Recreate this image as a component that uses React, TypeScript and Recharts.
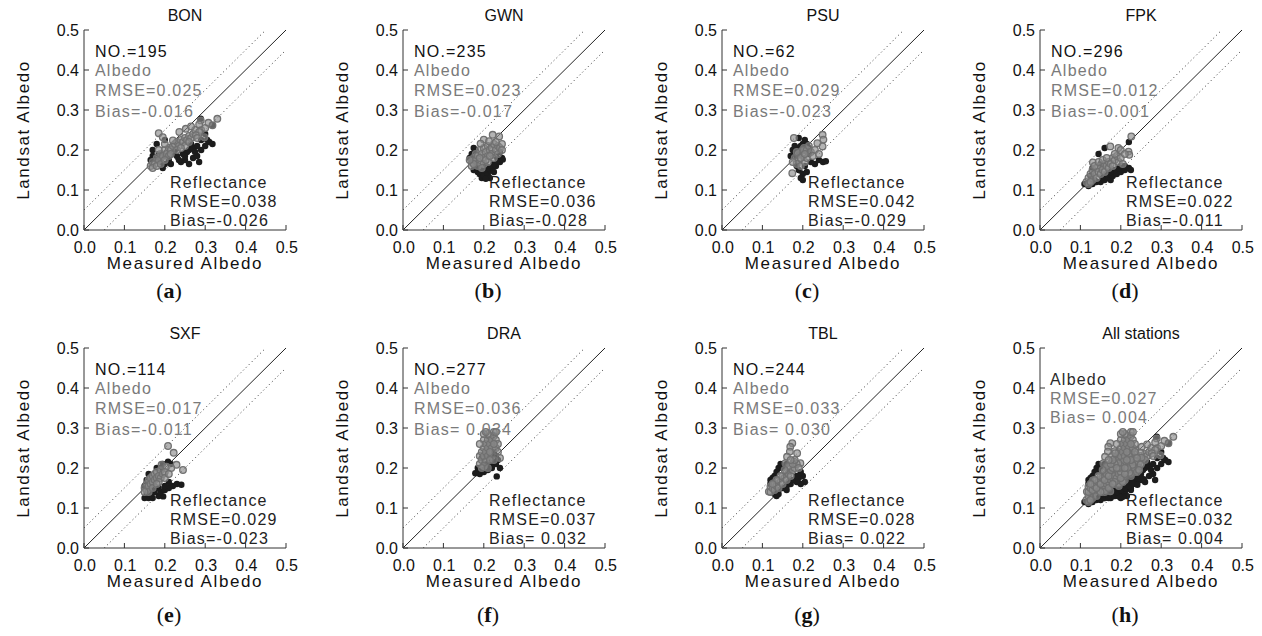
import { ScatterChart, Scatter, XAxis, YAxis, ReferenceLine } from "recharts"

type Pt = [number, number]

const FONT = '"Liberation Sans", Arial, sans-serif'

const stations = ["BON", "GWN", "PSU", "FPK", "SXF", "DRA", "TBL", "All stations"]
const tags = ["a", "b", "c", "d", "e", "f", "g", "h"]
const counts = ["195", "235", "62", "296", "114", "277", "244", ""]
const albedoRmse = ["0.025", "0.023", "0.029", "0.012", "0.017", "0.036", "0.033", "0.027"]
const albedoBias = ["-0.016", "-0.017", "-0.023", "-0.001", "-0.011", " 0.034", " 0.030", " 0.004"]
const reflRmse = ["0.038", "0.036", "0.042", "0.022", "0.029", "0.037", "0.028", "0.032"]
const reflBias = ["-0.026", "-0.028", "-0.029", "-0.011", "-0.023", " 0.032", " 0.022", " 0.004"]

const ticks = [0, 0.1, 0.2, 0.3, 0.4, 0.5]
const band = 0.05

// Albedo (grey open circles) and Reflectance (black dots), [measured, landsat]
const bonAlbedo: Pt[] = [
  [0.165, 0.16], [0.17, 0.17], [0.175, 0.165], [0.17, 0.155], [0.18, 0.16], [0.18, 0.18], [0.185, 0.175],
  [0.19, 0.19], [0.195, 0.185], [0.2, 0.2], [0.205, 0.19], [0.21, 0.205], [0.215, 0.2], [0.22, 0.21],
  [0.225, 0.215], [0.23, 0.22], [0.235, 0.21], [0.24, 0.225], [0.245, 0.22], [0.25, 0.23], [0.255, 0.225],
  [0.26, 0.235], [0.265, 0.23], [0.27, 0.24], [0.2, 0.215], [0.185, 0.2], [0.21, 0.185], [0.23, 0.2],
  [0.25, 0.21], [0.275, 0.25], [0.29, 0.25], [0.3, 0.255], [0.185, 0.242], [0.195, 0.232], [0.22, 0.224],
  [0.236, 0.245], [0.252, 0.253], [0.265, 0.259], [0.289, 0.274], [0.285, 0.264], [0.308, 0.268],
  [0.33, 0.278], [0.318, 0.262], [0.285, 0.245], [0.277, 0.237], [0.298, 0.232], [0.19, 0.165],
  [0.2, 0.175], [0.215, 0.19], [0.24, 0.205], [0.26, 0.22], [0.28, 0.23],
]
const bonRefl: Pt[] = [
  [0.17, 0.185], [0.18, 0.175], [0.19, 0.17], [0.2, 0.165], [0.24, 0.17], [0.25, 0.175], [0.26, 0.165],
  [0.27, 0.18], [0.28, 0.185], [0.285, 0.17], [0.29, 0.2], [0.3, 0.21], [0.31, 0.22], [0.318, 0.215],
  [0.305, 0.225], [0.318, 0.262], [0.289, 0.278], [0.22, 0.19], [0.23, 0.185], [0.21, 0.175], [0.225, 0.2],
  [0.245, 0.19], [0.26, 0.2], [0.27, 0.205], [0.28, 0.21], [0.265, 0.215], [0.255, 0.195], [0.17, 0.2],
  [0.185, 0.19], [0.2, 0.185], [0.215, 0.165], [0.18, 0.215], [0.2, 0.225], [0.195, 0.155], [0.165, 0.175],
  [0.29, 0.225], [0.3, 0.24], [0.275, 0.195], [0.235, 0.175], [0.25, 0.185],
]
const gwnAlbedo: Pt[] = [
  [0.17, 0.17], [0.175, 0.18], [0.18, 0.175], [0.18, 0.19], [0.185, 0.185], [0.19, 0.2], [0.19, 0.17],
  [0.195, 0.19], [0.2, 0.205], [0.2, 0.18], [0.205, 0.195], [0.21, 0.21], [0.21, 0.185], [0.215, 0.2],
  [0.22, 0.205], [0.22, 0.19], [0.225, 0.215], [0.23, 0.2], [0.235, 0.21], [0.24, 0.205], [0.245, 0.215],
  [0.2, 0.165], [0.185, 0.16], [0.21, 0.17], [0.225, 0.18], [0.235, 0.19], [0.17, 0.16], [0.175, 0.165],
  [0.195, 0.155], [0.222, 0.238], [0.238, 0.234], [0.2, 0.226], [0.213, 0.222], [0.192, 0.216],
  [0.23, 0.22], [0.245, 0.2], [0.165, 0.175], [0.19, 0.18], [0.205, 0.175], [0.215, 0.185],
]
const gwnRefl: Pt[] = [
  [0.175, 0.15], [0.185, 0.145], [0.19, 0.14], [0.195, 0.13], [0.2, 0.135], [0.21, 0.14], [0.215, 0.15],
  [0.22, 0.155], [0.23, 0.16], [0.24, 0.17], [0.245, 0.18], [0.235, 0.175], [0.225, 0.165], [0.18, 0.165],
  [0.17, 0.175], [0.17, 0.19], [0.18, 0.2], [0.2, 0.15], [0.205, 0.16], [0.24, 0.195], [0.215, 0.13],
  [0.185, 0.155], [0.165, 0.18], [0.247, 0.176], [0.205, 0.128], [0.19, 0.155], [0.23, 0.185],
  [0.175, 0.205], [0.21, 0.155], [0.225, 0.145],
]
const psuAlbedo: Pt[] = [
  [0.249, 0.238], [0.251, 0.226], [0.236, 0.217], [0.174, 0.142], [0.249, 0.209], [0.178, 0.23],
  [0.203, 0.205], [0.18, 0.18], [0.19, 0.19], [0.2, 0.2], [0.21, 0.2], [0.2, 0.185], [0.19, 0.175],
  [0.215, 0.21], [0.22, 0.195], [0.23, 0.2], [0.185, 0.165], [0.195, 0.16], [0.205, 0.17], [0.21, 0.18],
  [0.175, 0.17], [0.225, 0.185], [0.24, 0.19], [0.185, 0.195], [0.195, 0.18], [0.205, 0.19],
]
const psuRefl: Pt[] = [
  [0.19, 0.23], [0.205, 0.225], [0.21, 0.215], [0.175, 0.2], [0.18, 0.195], [0.185, 0.205], [0.195, 0.21],
  [0.2, 0.215], [0.17, 0.185], [0.19, 0.15], [0.2, 0.14], [0.195, 0.13], [0.2, 0.125], [0.21, 0.145],
  [0.205, 0.16], [0.22, 0.17], [0.23, 0.165], [0.24, 0.175], [0.25, 0.17], [0.257, 0.172], [0.215, 0.19],
  [0.185, 0.16], [0.18, 0.21], [0.195, 0.195], [0.215, 0.205], [0.185, 0.185],
]
const fpkAlbedo: Pt[] = [
  [0.226, 0.234], [0.219, 0.196], [0.221, 0.188], [0.194, 0.205], [0.131, 0.169], [0.174, 0.209],
  [0.115, 0.12], [0.12, 0.13], [0.125, 0.14], [0.13, 0.125], [0.13, 0.15], [0.135, 0.14], [0.14, 0.155],
  [0.14, 0.13], [0.145, 0.145], [0.15, 0.16], [0.15, 0.14], [0.155, 0.15], [0.16, 0.165], [0.16, 0.145],
  [0.165, 0.16], [0.17, 0.17], [0.17, 0.155], [0.175, 0.165], [0.18, 0.18], [0.18, 0.16], [0.185, 0.175],
  [0.19, 0.185], [0.195, 0.17], [0.2, 0.18], [0.12, 0.115], [0.125, 0.12], [0.135, 0.16], [0.145, 0.17],
  [0.155, 0.175], [0.165, 0.18], [0.2, 0.2], [0.185, 0.19], [0.21, 0.19], [0.205, 0.165],
]
const fpkRefl: Pt[] = [
  [0.13, 0.115], [0.14, 0.12], [0.15, 0.12], [0.16, 0.125], [0.17, 0.13], [0.175, 0.125], [0.18, 0.135],
  [0.19, 0.14], [0.2, 0.145], [0.21, 0.15], [0.22, 0.155], [0.225, 0.15], [0.21, 0.16], [0.155, 0.13],
  [0.165, 0.14], [0.12, 0.11], [0.11, 0.115], [0.185, 0.15], [0.16, 0.205], [0.22, 0.22], [0.145, 0.19],
  [0.195, 0.155], [0.175, 0.145], [0.135, 0.125], [0.2, 0.16], [0.125, 0.135], [0.15, 0.165], [0.13, 0.155],
]
const sxfAlbedo: Pt[] = [
  [0.208, 0.255], [0.222, 0.238], [0.229, 0.208], [0.245, 0.195], [0.192, 0.208], [0.204, 0.203],
  [0.216, 0.2], [0.15, 0.15], [0.155, 0.145], [0.155, 0.16], [0.16, 0.155], [0.16, 0.17], [0.165, 0.16],
  [0.165, 0.175], [0.17, 0.165], [0.17, 0.18], [0.175, 0.17], [0.175, 0.185], [0.18, 0.175], [0.18, 0.19],
  [0.185, 0.18], [0.19, 0.195], [0.19, 0.175], [0.195, 0.185], [0.2, 0.19], [0.16, 0.14], [0.17, 0.15],
  [0.185, 0.165], [0.2, 0.175], [0.21, 0.185], [0.18, 0.16], [0.15, 0.14],
]
const sxfRefl: Pt[] = [
  [0.15, 0.125], [0.16, 0.125], [0.17, 0.125], [0.185, 0.13], [0.196, 0.129], [0.155, 0.135], [0.165, 0.135],
  [0.175, 0.14], [0.19, 0.14], [0.2, 0.145], [0.21, 0.15], [0.22, 0.155], [0.23, 0.16], [0.241, 0.158],
  [0.21, 0.165], [0.2, 0.155], [0.15, 0.155], [0.155, 0.17], [0.16, 0.185], [0.195, 0.21], [0.208, 0.216],
  [0.215, 0.21], [0.19, 0.2], [0.18, 0.2], [0.17, 0.145], [0.185, 0.15], [0.165, 0.15],
]
const draAlbedo: Pt[] = [
  [0.19, 0.21], [0.19, 0.23], [0.195, 0.22], [0.195, 0.24], [0.2, 0.23], [0.2, 0.25], [0.2, 0.27],
  [0.205, 0.24], [0.205, 0.26], [0.21, 0.25], [0.21, 0.27], [0.21, 0.23], [0.215, 0.26], [0.215, 0.28],
  [0.22, 0.27], [0.22, 0.25], [0.225, 0.28], [0.225, 0.29], [0.23, 0.27], [0.23, 0.25], [0.22, 0.23],
  [0.215, 0.24], [0.205, 0.215], [0.2, 0.205], [0.21, 0.285], [0.2, 0.285], [0.235, 0.24], [0.235, 0.26],
  [0.195, 0.2], [0.225, 0.22], [0.21, 0.2], [0.24, 0.225], [0.23, 0.29], [0.205, 0.29], [0.19, 0.26],
  [0.225, 0.26], [0.215, 0.22],
]
const draRefl: Pt[] = [
  [0.185, 0.19], [0.19, 0.2], [0.195, 0.195], [0.2, 0.2], [0.21, 0.21], [0.215, 0.22], [0.22, 0.215],
  [0.225, 0.225], [0.23, 0.23], [0.235, 0.22], [0.23, 0.21], [0.2, 0.21], [0.185, 0.2], [0.24, 0.2],
  [0.195, 0.225], [0.205, 0.23], [0.225, 0.24], [0.215, 0.205], [0.19, 0.185], [0.232, 0.179],
  [0.179, 0.187], [0.2, 0.19], [0.21, 0.195], [0.22, 0.2],
]
const tblAlbedo: Pt[] = [
  [0.174, 0.262], [0.169, 0.253], [0.168, 0.241], [0.161, 0.228], [0.178, 0.216], [0.194, 0.212],
  [0.157, 0.212], [0.116, 0.141], [0.12, 0.154], [0.128, 0.162], [0.186, 0.237], [0.12, 0.14], [0.125, 0.15],
  [0.13, 0.16], [0.13, 0.145], [0.135, 0.155], [0.14, 0.17], [0.14, 0.15], [0.145, 0.165], [0.15, 0.18],
  [0.15, 0.16], [0.155, 0.175], [0.16, 0.19], [0.16, 0.17], [0.165, 0.185], [0.17, 0.2], [0.17, 0.18],
  [0.175, 0.195], [0.18, 0.2], [0.185, 0.21], [0.19, 0.2], [0.165, 0.205], [0.155, 0.195], [0.145, 0.18],
  [0.135, 0.17], [0.125, 0.16], [0.175, 0.21], [0.18, 0.22], [0.17, 0.22],
]
const tblRefl: Pt[] = [
  [0.13, 0.135], [0.135, 0.14], [0.14, 0.145], [0.15, 0.15], [0.16, 0.155], [0.17, 0.16], [0.18, 0.17],
  [0.19, 0.175], [0.2, 0.18], [0.205, 0.165], [0.195, 0.16], [0.185, 0.165], [0.175, 0.17], [0.165, 0.165],
  [0.16, 0.145], [0.14, 0.135], [0.12, 0.17], [0.125, 0.175], [0.13, 0.18], [0.135, 0.19], [0.14, 0.2],
  [0.145, 0.21], [0.15, 0.2], [0.165, 0.19], [0.16, 0.21], [0.12, 0.16], [0.195, 0.19], [0.135, 0.13],
  [0.185, 0.18],
]

const stationAlbedo = [bonAlbedo, gwnAlbedo, psuAlbedo, fpkAlbedo, sxfAlbedo, draAlbedo, tblAlbedo]
const stationRefl = [bonRefl, gwnRefl, psuRefl, fpkRefl, sxfRefl, draRefl, tblRefl]
// "All stations" is every station's points together
const albedoSets = [...stationAlbedo, stationAlbedo.flat()]
const reflSets = [...stationRefl, stationRefl.flat()]

const panelLefts = [84, 403, 722, 1040]
const rowTops = [30, 348]
const tagBaselines = [298, 622]
const PW = 202
const PH = 200

const fmt = (v: number) => v.toFixed(1)

const ring = (p: any) => (
  <circle cx={p.cx} cy={p.cy} r={3.3} fill="#8c8c8c" fillOpacity={0.65} stroke="#707070" strokeWidth={1.3} />
)
const dot = (p: any) => <circle cx={p.cx} cy={p.cy} r={3.2} fill="#1c1c1c" />

const css = `
.recharts-label { letter-spacing: 1.6px; }
.recharts-cartesian-axis-tick text { font-size: 16px !important; letter-spacing: 1.6px !important; fill: #111 !important; }
`

function Panel({ i }: { i: number }) {
  const left = panelLefts[i % 4]
  const top = rowTops[Math.floor(i / 4)]
  const alb = albedoSets[i].map(([x, y]) => ({ x, y }))
  const ref = reflSets[i].map(([x, y]) => ({ x, y }))
  return (
    <div style={{ position: "absolute", left: left - 84, top: top - 30 }}>
      <ScatterChart width={84 + PW + 20} height={30 + PH + 48} margin={{ top: 30, right: 20, bottom: 0, left: 0 }}>
        <XAxis
          type="number" dataKey="x" domain={[0, 0.5]} ticks={ticks} interval={0} tickFormatter={fmt}
          tickSize={-5} tickMargin={17} height={48} stroke="#333" tick={{ fill: "#111", fontSize: 16, dx: 0.8 }}
          label={{ value: "Measured Albedo", position: "insideBottom", offset: 9, fill: "#111", fontSize: 17 }}
        />
        <YAxis
          type="number" dataKey="y" domain={[0, 0.5]} ticks={ticks} interval={0} tickFormatter={fmt}
          tickSize={-5} tickMargin={10} width={84} stroke="#333" tick={{ fill: "#111", fontSize: 16 }}
          label={{ value: "Landsat Albedo", angle: -90, position: "insideLeft", offset: 23, fill: "#111", fontSize: 17, style: { textAnchor: "middle" } }}
        />
        <XAxis xAxisId="top" orientation="top" type="number" domain={[0, 0.5]} ticks={ticks} interval={0}
          tickSize={-5} height={0} tick={false} stroke="#333" />
        <YAxis yAxisId="right" orientation="right" type="number" domain={[0, 0.5]} ticks={ticks} interval={0}
          tickSize={-5} width={0} tick={false} stroke="#333" />
        <ReferenceLine segment={[{ x: 0, y: 0 }, { x: 0.5, y: 0.5 }]} stroke="#222" strokeWidth={1} />
        <ReferenceLine segment={[{ x: 0, y: band }, { x: 0.5 - band, y: 0.5 }]} stroke="#333" strokeDasharray="1 3" />
        <ReferenceLine segment={[{ x: band, y: 0 }, { x: 0.5, y: 0.5 - band }]} stroke="#333" strokeDasharray="1 3" />
        <Scatter data={ref} shape={dot} isAnimationActive={false} />
        <Scatter data={alb} shape={ring} isAnimationActive={false} />
      </ScatterChart>
    </div>
  )
}

function Notes({ i }: { i: number }) {
  const left = panelLefts[i % 4]
  const top = rowTops[Math.floor(i / 4)]
  const row = Math.floor(i / 4)
  const all = counts[i] === ""
  const ax = left + (all ? 10 : 11)
  const ay = all ? [37, 56, 75] : [46, 66, 87]
  const t = { fontSize: 16, letterSpacing: 1.2 }
  return (
    <g>
      <text x={left + PW / 2} y={top - 9} textAnchor="middle" fontSize={16} fill="#111">{stations[i]}</text>
      {!all && <text x={ax} y={top + 27} {...t} fill="#111">NO.={counts[i]}</text>}
      <text x={ax} y={top + ay[0]} {...t} fill={all ? "#2a2a2a" : "#7a7a7a"}>Albedo</text>
      <text x={ax} y={top + ay[1]} {...t} fill="#7a7a7a">RMSE={albedoRmse[i]}</text>
      <text x={ax} y={top + ay[2]} {...t} fill="#7a7a7a" style={{ whiteSpace: "pre" }}>Bias={albedoBias[i]}</text>
      <text x={left + 86} y={top + 158} {...t} fill="#222">Reflectance</text>
      <text x={left + 86} y={top + 177} {...t} fill="#222">RMSE={reflRmse[i]}</text>
      <text x={left + 86} y={top + 196} {...t} fill="#222" style={{ whiteSpace: "pre" }}>Bias={reflBias[i]}</text>
      <text x={left + 85} y={tagBaselines[row]} textAnchor="middle" fontSize={22} fill="#111"
        fontFamily='"Liberation Serif", "DejaVu Serif", serif'>
        (<tspan fontWeight="bold">{tags[i]}</tspan>)
      </text>
    </g>
  )
}

export default function App() {
  return (
    <div style={{ position: "absolute", left: 0, top: 0, width: 1262, height: 636, background: "#fff", fontFamily: FONT, overflow: "hidden" }}>
      <style>{css}</style>
      {stations.map((_, i) => <Panel key={i} i={i} />)}
      <svg width={1262} height={636} style={{ position: "absolute", left: 0, top: 0, pointerEvents: "none", fontFamily: FONT }}>
        {stations.map((_, i) => <Notes key={i} i={i} />)}
      </svg>
    </div>
  )
}
